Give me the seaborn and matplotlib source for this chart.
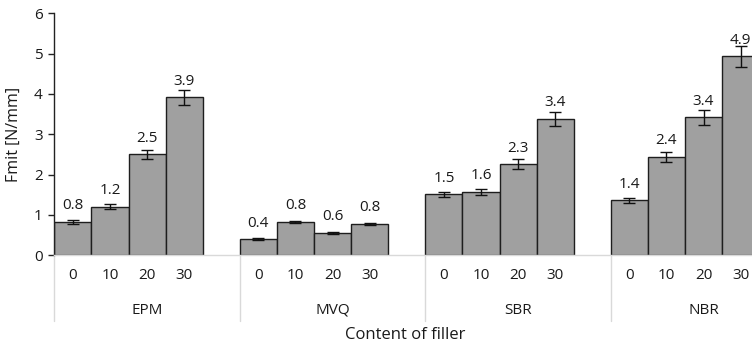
import matplotlib
matplotlib.use("Agg")
import matplotlib.pyplot as plt
import matplotlib.transforms as mtransforms
import seaborn as sns
import pandas as pd

# Tear strength (Fmit) for four rubbers at four filler contents
rubbers = ["EPM", "MVQ", "SBR", "NBR"]
filler_content = ["0", "10", "20", "30"]
fmit_epm = [0.83, 1.20, 2.50, 3.92]
fmit_mvq = [0.40, 0.83, 0.56, 0.78]
fmit_sbr = [1.51, 1.57, 2.26, 3.38]
fmit_nbr = [1.36, 2.44, 3.42, 4.94]
err_epm = [0.05, 0.06, 0.12, 0.19]
err_mvq = [0.02, 0.03, 0.02, 0.03]
err_sbr = [0.07, 0.07, 0.12, 0.17]
err_nbr = [0.07, 0.13, 0.18, 0.26]

values = [fmit_epm, fmit_mvq, fmit_sbr, fmit_nbr]
errors = [err_epm, err_mvq, err_sbr, err_nbr]

rows = []
order = []
for r, vals, errs in zip(rubbers, values, errors):
    for c, v, e in zip(filler_content, vals, errs):
        slot = f"{r} {c}"
        rows.append({"slot": slot, "rubber": r, "content": c, "fmit": v, "err": e})
        order.append(slot)
    order.append(f"{r} gap")  # empty slot between groups
df = pd.DataFrame(rows)

sns.set_theme(style="white")
plt.rcParams["font.family"] = ["Open Sans", "DejaVu Sans"]

TXT = "#1a1a1a"
FS = 11

W, H = 752, 348
fig = plt.figure(figsize=(W / 100, H / 100), dpi=100)
x0, x1 = 54.3, 54.3 + 20 * 37.1
y_top, y_bot = 13.3, 255.3
ax = fig.add_axes([x0 / W, (H - y_bot) / H, (x1 - x0) / W, (y_bot - y_top) / H])

sns.barplot(data=df, x="slot", y="fmit", order=order, width=1.0,
            color="#a0a0a0", saturation=1, edgecolor="#1e1e1e", linewidth=1.0,
            errorbar=None, ax=ax, zorder=2)

pos = [order.index(s) for s in df["slot"]]
ax.errorbar(pos, df["fmit"], yerr=df["err"], fmt="none", ecolor="#111111",
            elinewidth=1.0, capsize=4.3, capthick=1.0, zorder=3)

for p, v in zip(pos, df["fmit"]):
    ax.annotate(f"{v:.1f}", (p, v), xytext=(0, 9), textcoords="offset points",
                ha="center", va="baseline", fontsize=FS, color=TXT)

ax.set_xlim(-0.5, len(order) - 0.5)
ax.set_ylim(0, 6)
ax.set_yticks(range(0, 7))
ax.tick_params(axis="y", which="major", length=4.3, width=1.0, color="#222222",
               pad=4, labelsize=FS, labelcolor=TXT, left=True)
ax.set_xticks(pos)
ax.set_xticklabels(df["content"].tolist())
ax.tick_params(axis="x", length=0, pad=9, labelsize=FS, labelcolor=TXT)

for side in ["top", "right"]:
    ax.spines[side].set_visible(False)
ax.spines["left"].set_color("#222222")
ax.spines["left"].set_linewidth(1.0)
ax.spines["bottom"].set_color("#d9d9d9")
ax.spines["bottom"].set_linewidth(1.0)
ax.spines["bottom"].set_zorder(4)

ax.set_xlabel("")
ax.set_ylabel("Fmit [N/mm]", fontsize=11.5, color=TXT, va="center")
ax.yaxis.set_label_coords((14 - x0) / (x1 - x0), 0.5)

# Group separators and group names below the axis
trans = mtransforms.blended_transform_factory(ax.transData, ax.transAxes)
ah = y_bot - y_top
for k, r in enumerate(rubbers):
    xs = 5 * k - 0.5
    ax.plot([xs, xs], [0, -(321 - y_bot) / ah], transform=trans, color="#d9d9d9",
            lw=1.0, clip_on=False, zorder=1)
    ax.text(5 * k + 2, -(310 - y_bot) / ah, r, transform=trans,
            ha="center", va="center", fontsize=FS, color=TXT)

fig.text(405 / W, 1 - 335 / H, "Content of filler", ha="center", va="center",
         fontsize=12, color=TXT)

fig.savefig("out.png", dpi=100)
